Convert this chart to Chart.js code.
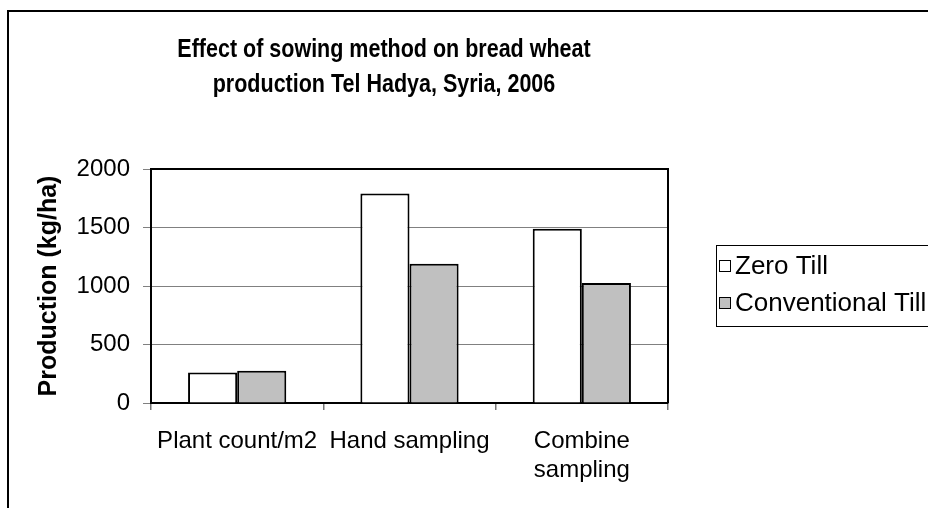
<!DOCTYPE html>
<html>
<head>
<meta charset="utf-8">
<script src="https://cdn.jsdelivr.net/npm/chart.js@4/dist/chart.umd.min.js"></script>
<style>
  html, body { margin: 0; padding: 0; background: #ffffff; }
  #wrap { width: 928px; height: 508px; position: relative; }
</style>
</head>
<body>
<div id="wrap"><canvas id="c" width="928" height="508"></canvas></div>
<script>
// Sampling methods along the x axis
const categories = ['Plant count/m2', 'Hand sampling', ['Combine', 'sampling']];
// Production (kg/ha) for each sowing method
const zeroTill = [260, 1790, 1490];
const conventionalTill = [275, 1190, 1025];
const seriesNames = ['Zero Till', 'Conventional Till'];
// Value axis ticks
const yTicks = [0, 500, 1000, 1500, 2000];
const titleLines = ['Effect of sowing method on bread wheat', 'production Tel Hadya, Syria, 2006'];
const yTitle = 'Production (kg/ha)';

const FONT = '"Liberation Sans", Arial, sans-serif';

// Outer frame, plot-area frame, two-line title and boxed legend
const decorations = {
  id: 'decorations',
  beforeDraw(chart) {
    const ctx = chart.ctx;
    ctx.save();
    ctx.fillStyle = '#ffffff';
    ctx.fillRect(0, 0, chart.width, chart.height);
    ctx.strokeStyle = '#000000';
    ctx.lineWidth = 2;
    ctx.strokeRect(8, 11, chart.width + 20, chart.height + 20);
    ctx.restore();
  },
  afterDatasetsDraw(chart) {
    const ctx = chart.ctx;
    const a = chart.chartArea;
    ctx.save();
    ctx.strokeStyle = '#000000';
    ctx.lineWidth = 2;
    ctx.beginPath();
    ctx.moveTo(a.left, a.top);
    ctx.lineTo(a.right, a.top);
    ctx.lineTo(a.right, a.bottom);
    ctx.stroke();
    ctx.restore();
  },
  afterDraw(chart) {
    const ctx = chart.ctx;
    ctx.save();
    // title, tall and slightly condensed
    ctx.fillStyle = '#000000';
    ctx.font = 'bold 25px ' + FONT;
    ctx.textAlign = 'center';
    ctx.textBaseline = 'alphabetic';
    titleLines.forEach((t, i) => {
      ctx.save();
      ctx.translate(384, 57 + i * 35);
      ctx.scale(0.86, 1);
      ctx.fillText(t, 0, 0);
      ctx.restore();
    });
    // legend
    ctx.strokeStyle = '#000000';
    ctx.lineWidth = 1;
    ctx.strokeRect(716.5, 245.5, 260, 81);
    ctx.font = '26px ' + FONT;
    ctx.textAlign = 'left';
    ctx.textBaseline = 'middle';
    chart.data.datasets.forEach((ds, i) => {
      const cy = 266 + i * 37;
      ctx.fillStyle = ds.backgroundColor;
      ctx.fillRect(719.5, cy - 5.5, 11, 11);
      ctx.strokeRect(719.5, cy - 5.5, 11, 11);
      ctx.fillStyle = '#000000';
      ctx.fillText(ds.label, 735, cy + 1);
    });
    ctx.restore();
  }
};

new Chart(document.getElementById('c'), {
  type: 'bar',
  data: {
    labels: categories,
    datasets: [
      { label: seriesNames[0], data: zeroTill, backgroundColor: '#ffffff',
        borderColor: '#000000', borderWidth: 2 },
      { label: seriesNames[1], data: conventionalTill, backgroundColor: '#c0c0c0',
        borderColor: '#000000', borderWidth: 2 }
    ]
  },
  plugins: [decorations],
  options: {
    responsive: false,
    animation: false,
    devicePixelRatio: 1,
    layout: { padding: { top: 169, right: 260, left: 0, bottom: 0 } },
    datasets: { bar: { categoryPercentage: 0.57, barPercentage: 1 } },
    plugins: {
      legend: { display: false },
      title: { display: false },
      tooltip: { enabled: false }
    },
    scales: {
      x: {
        afterFit(scale) { scale.height = 105; },
        grid: { offset: true, drawOnChartArea: false, drawTicks: true, tickLength: 7,
                color: '#777777', lineWidth: 1.5 },
        border: { display: true, color: '#000000', width: 2 },
        ticks: { color: '#000000', font: { family: FONT, size: 24 }, padding: 17,
                 maxRotation: 0, autoSkip: false }
      },
      y: {
        min: yTicks[0],
        max: yTicks[yTicks.length - 1],
        afterFit(scale) { scale.width = 151; },
        afterBuildTicks(scale) { scale.ticks = yTicks.map(v => ({ value: v })); },
        grid: { color: '#808080', lineWidth: 1, tickLength: 8, drawTicks: true },
        border: { display: true, color: '#000000', width: 2 },
        ticks: { color: '#000000', font: { family: FONT, size: 24 }, padding: 13,
                 callback: v => String(v) },
        title: { display: true, text: yTitle, color: '#000000',
                 font: { family: FONT, size: 25, weight: 'bold' },
                 padding: { top: 34, bottom: 0 } }
      }
    }
  }
});
</script>
</body>
</html>
